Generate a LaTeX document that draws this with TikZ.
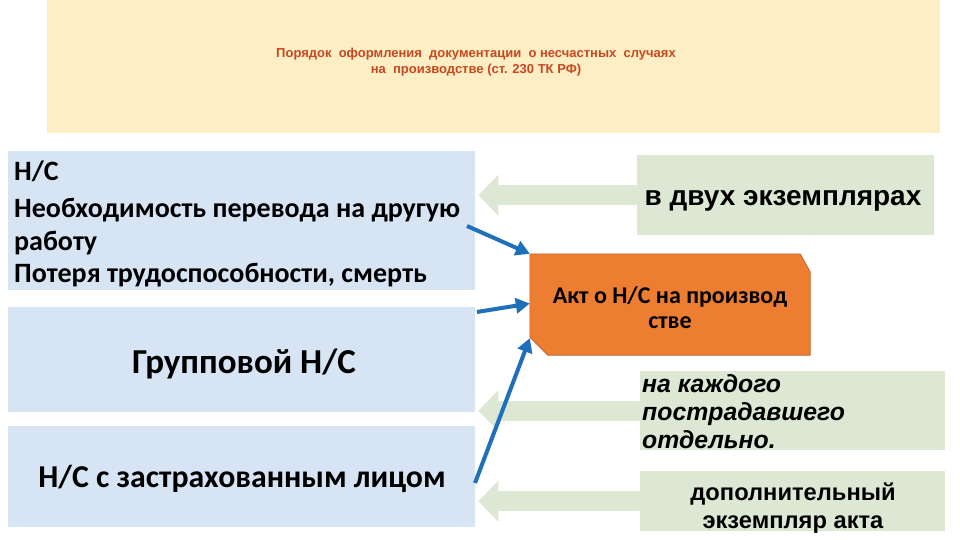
\documentclass[tikz,border=0pt]{standalone}
\usepackage{fontspec}
\setmainfont{Liberation Sans}
\newfontfamily\calib{Carlito}
\usetikzlibrary{arrows.meta}
\definecolor{band}{HTML}{FEEEC5}
\definecolor{titlec}{HTML}{C9471E}
\definecolor{bluebox}{HTML}{D6E4F3}
\definecolor{greenbox}{HTML}{DDE8D4}
\definecolor{orangebox}{HTML}{ED7D31}
\definecolor{arrowblue}{HTML}{1F70BB}
\tikzset{
  leftbox/.style={fill=bluebox, anchor=north west, inner sep=0pt, minimum width=467pt},
  rightbox/.style={fill=greenbox, anchor=north west, inner sep=0pt},
  line/.style={inner sep=0pt, anchor=base},
  linel/.style={inner sep=0pt, anchor=base west},
  lefttext/.style={font=\calib\bfseries\fontsize{28}{32}\selectfont},
  greenarrow/.style={draw=greenbox, line width=20pt, -{Triangle[length=20pt,width=40pt]}},
  bluearrow/.style={draw=arrowblue, line width=4pt, -{Triangle[length=14pt,width=15pt]}}
}
\begin{document}
\begin{tikzpicture}[x=1pt,y=-1pt]
\useasboundingbox (0,0) rectangle (960,540);
\fill[white] (0,0) rectangle (960,540);
% title band
\node[fill=band, anchor=north west, inner sep=0pt, minimum width=893pt, minimum height=133pt] (band) at (47,0) {};
\node[line, font=\bfseries\fontsize{13}{16}\selectfont, text=titlec] (title1) at (476,58)
  {Порядок\ \ оформления\ \ документации\ \ о несчастных\ \ случаях};
\node[line, font=\bfseries\fontsize{13}{16}\selectfont, text=titlec] (title2) at (476,74)
  {на\ \ производстве (ст. 230 ТК РФ)};
% left boxes
\node[leftbox, minimum height=139pt] (b1) at (8,151) {};
\node[linel, lefttext] (t1a) at (14,180) {Н/С};
\node[linel, lefttext] (t1b) at (14,217) {Необходимость перевода на другую};
\node[linel, lefttext] (t1c) at (14,250) {работу};
\node[linel, lefttext] (t1d) at (14,282) {Потеря трудоспособности, смерть};
\node[leftbox, minimum height=105pt] (b2) at (8,307) {};
\node[line, font=\calib\bfseries\fontsize{35}{40}\selectfont] (t2) at (244,373) {Групповой Н/С};
\node[leftbox, minimum height=101pt] (b3) at (8,426) {};
\node[line, font=\calib\bfseries\fontsize{31.8}{36}\selectfont] (t3) at (242,487) {Н/С с застрахованным лицом};
% right boxes
\node[rightbox, minimum width=297pt, minimum height=80pt] (g1) at (637,155) {};
\node[line, font=\bfseries\fontsize{28}{32}\selectfont] (g1t) at (783,205) {в двух экземплярах};
\node[rightbox, minimum width=305pt, minimum height=79pt] (g2) at (640,371) {};
\node[linel, font=\bfseries\itshape\fontsize{24.8}{28}\selectfont] (g2a) at (642,392) {на каждого};
\node[linel, font=\bfseries\itshape\fontsize{24.8}{28}\selectfont] (g2b) at (642,420) {пострадавшего};
\node[linel, font=\bfseries\itshape\fontsize{24.8}{28}\selectfont] (g2c) at (642,448) {отдельно.};
\node[rightbox, minimum width=305pt, minimum height=60pt] (g3) at (640,471) {};
\node[line, font=\bfseries\fontsize{23.7}{28}\selectfont] (g3a) at (793,500) {дополнительный};
\node[line, font=\bfseries\fontsize{23.7}{28}\selectfont] (g3b) at (793,528) {экземпляр акта};
% orange act box
\node[minimum width=280pt, minimum height=101pt, inner sep=0pt] (akt) at (670,304.5) {};
\filldraw[fill=orangebox, draw=orangebox!75!black, line width=0.6pt]
  (akt.north west) -- ([xshift=-10pt]akt.north east) -- ([yshift=-18pt]akt.north east) -- (akt.south east)
  -- ([xshift=18pt]akt.south west) -- ([yshift=18pt]akt.south west) -- cycle;
\node[line, font=\calib\bfseries\fontsize{24}{26}\selectfont] (akta) at (670,303) {Акт о Н/С на производ};
\node[line, font=\calib\bfseries\fontsize{24}{26}\selectfont] (aktb) at (670,328) {стве};
% green arrows
\draw[greenarrow] (g1.west) -- ([xshift=3pt]b1.east |- g1.west);
\draw[greenarrow] (g2.west) -- ([xshift=3pt]b2.east |- g2.west);
\draw[greenarrow] (g3.west) -- ([xshift=3pt]b3.east |- g3.west);
% blue arrows
\coordinate (s1) at (467,226);
\coordinate (s2) at (477,312);
\coordinate (s3) at (475,483);
\draw[bluearrow] (s1) -- (akt.north west);
\draw[bluearrow] (s2) -- ([yshift=1pt]akt.west);
\draw[bluearrow] (s3) -- ([yshift=17pt]akt.south west);
\end{tikzpicture}
\end{document}
